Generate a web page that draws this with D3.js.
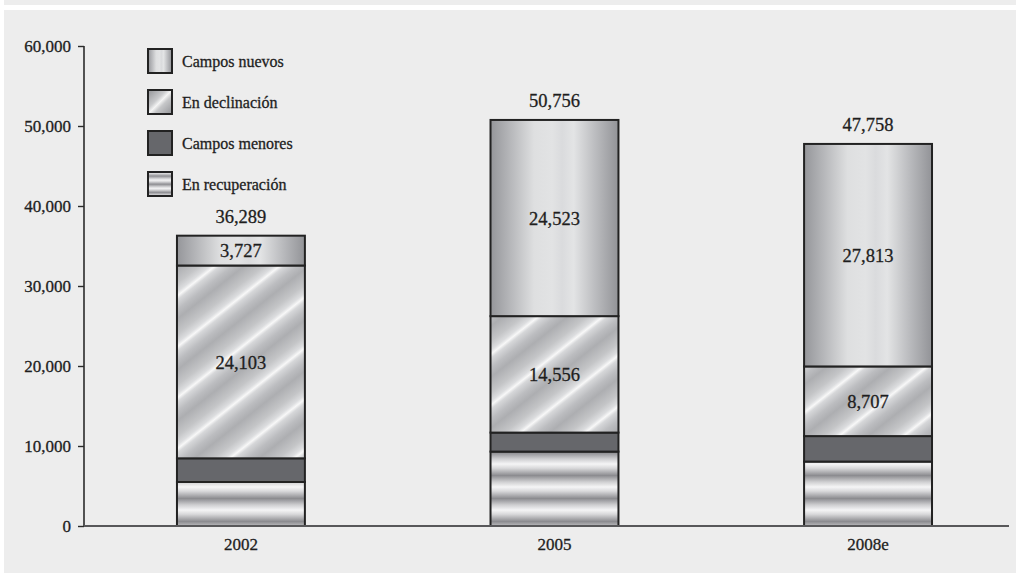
<!DOCTYPE html>
<html>
<head>
<meta charset="utf-8">
<script src="https://cdn.jsdelivr.net/npm/d3@7"></script>
<style>
  html, body { margin: 0; padding: 0; background: #ffffff; }
  svg { display: block; }
  text { font-family: "Liberation Serif", "Times New Roman", serif; fill: #1e1e1e; stroke: #1e1e1e; stroke-width: 0.3px; }
</style>
</head>
<body>
<svg id="chart" width="1016" height="573"></svg>
<script>
// Production by field type (stacked, bottom to top)
const years = ["2002", "2005", "2008e"];
const recuperacion = [5500, 9300, 8050];
const menores = [2959, 2377, 3188];
const declinacion = [24103, 14556, 8707];
const nuevos = [3727, 24523, 27813];
const totals = [36289, 50756, 47758];
const yTicks = [0, 10000, 20000, 30000, 40000, 50000, 60000];

const seriesKeys = ["recuperacion", "menores", "declinacion", "nuevos"];
const seriesNames = {
  nuevos: "Campos nuevos",
  declinacion: "En declinación",
  menores: "Campos menores",
  recuperacion: "En recuperación"
};
const legendOrder = ["nuevos", "declinacion", "menores", "recuperacion"];
const labelled = new Set(["declinacion", "nuevos"]);

const rows = years.map((y, i) => ({
  year: y,
  recuperacion: recuperacion[i],
  menores: menores[i],
  declinacion: declinacion[i],
  nuevos: nuevos[i],
  total: totals[i]
}));

const svg = d3.select("#chart");
const fmt = d3.format(",");

// panel background
svg.append("rect").attr("x", 4).attr("y", 0).attr("width", 1012).attr("height", 5).attr("fill", "#ededed");
svg.append("rect").attr("x", 4).attr("y", 10).attr("width", 1012).attr("height", 563).attr("fill", "#ededed");

// ---- fills ----
const defs = svg.append("defs");

function addGradient(id, attrs, stops) {
  const g = defs.append("linearGradient").attr("id", id);
  Object.entries(attrs).forEach(([k, v]) => g.attr(k, v));
  stops.forEach(([o, c]) => g.append("stop").attr("offset", o).attr("stop-color", c));
}

// cylinder-like shading across the bar
addGradient("g-nuevos", { x1: 0, y1: 0, x2: 1, y2: 0 }, [
  [0, "#95969a"], [0.14, "#b3b4b7"], [0.34, "#dedfe0"], [0.48, "#e2e3e4"],
  [0.56, "#dadbdd"], [0.65, "#e3e4e5"], [0.82, "#bbbcbf"], [1, "#929397"]
]);

// diagonal streaks
const P = 40, nx = 0.62, ny = 0.785;
addGradient("g-decl", {
  gradientUnits: "userSpaceOnUse", spreadMethod: "repeat",
  x1: 0, y1: 0, x2: nx * P, y2: ny * P
}, [
  [0, "#adaeb1"], [0.3, "#c4c5c7"], [0.47, "#dcdddf"], [0.55, "#f8f8f8"],
  [0.63, "#d6d7d9"], [0.82, "#bcbdc0"], [1, "#adaeb1"]
]);
addGradient("g-decl-legend", { x1: 0.1, y1: 0.1, x2: 0.9, y2: 0.9 }, [
  [0, "#a0a1a4"], [0.35, "#c9cacc"], [0.5, "#f4f4f4"], [0.65, "#c6c7c9"], [1, "#a0a1a4"]
]);

// horizontal ripples
addGradient("g-recup", {
  gradientUnits: "userSpaceOnUse", spreadMethod: "repeat",
  x1: 0, y1: 4, x2: 0, y2: 27
}, [
  [0, "#f5f5f6"], [0.18, "#d9d9db"], [0.5, "#8c8c90"], [0.78, "#cfcfd1"], [1, "#f5f5f6"]
]);
addGradient("g-recup-legend", {
  x1: 0, y1: 0, x2: 0, y2: 0.34, spreadMethod: "repeat"
}, [
  [0, "#f3f3f4"], [0.2, "#d5d5d7"], [0.5, "#8f8f93"], [0.8, "#d0d0d2"], [1, "#f3f3f4"]
]);

const barFill = {
  nuevos: "url(#g-nuevos)",
  declinacion: "url(#g-decl)",
  menores: "#66676b",
  recuperacion: "url(#g-recup)"
};
const legendFill = {
  nuevos: "url(#g-nuevos)",
  declinacion: "url(#g-decl-legend)",
  menores: "#66676b",
  recuperacion: "url(#g-recup-legend)"
};

// ---- scales ----
const y = d3.scaleLinear().domain([0, 60000]).range([526, 46]);
const x = d3.scaleBand()
  .domain(years)
  .range([84, 1009])
  .paddingInner(0.592)
  .paddingOuter(0.271)
  .align(0.547);

// ---- axes ----
const yAxis = svg.append("g")
  .attr("transform", "translate(84,0)")
  .call(d3.axisLeft(y).tickValues(yTicks).tickFormat(fmt).tickSize(6).tickPadding(7));
yAxis.select(".domain").attr("stroke", "#2b2b2b").attr("stroke-width", 1.6).attr("d", "M0,46V526");
yAxis.selectAll(".tick line").attr("stroke", "#2b2b2b").attr("stroke-width", 1.4);
yAxis.selectAll(".tick text")
  .style("font-family", "'Liberation Serif', serif")
  .style("font-size", "17px")
  .attr("fill", "#1e1e1e");

// ---- stacked bars ----
const stack = d3.stack().keys(seriesKeys)(rows);

const layers = svg.append("g").selectAll("g")
  .data(stack)
  .join("g")
  .attr("data-series", d => d.key);

layers.selectAll("rect")
  .data(d => d.map(v => ({ key: d.key, v })))
  .join("rect")
  .attr("x", d => x(d.v.data.year))
  .attr("width", x.bandwidth())
  .attr("y", d => y(d.v[1]))
  .attr("height", d => y(d.v[0]) - y(d.v[1]))
  .attr("fill", d => barFill[d.key])
  .attr("stroke", "#222")
  .attr("stroke-width", 2);

// segment values
svg.append("g").selectAll("text")
  .data(stack.filter(s => labelled.has(s.key)).flatMap(s => s.map(v => ({ key: s.key, v }))))
  .join("text")
  .attr("x", d => x(d.v.data.year) + x.bandwidth() / 2)
  .attr("y", d => (y(d.v[0]) + y(d.v[1])) / 2)
  .attr("dy", "0.36em")
  .attr("text-anchor", "middle")
  .style("font-size", "18.5px")
  .text(d => fmt(d.v.data[d.key]));

// totals above bars
svg.append("g").selectAll("text")
  .data(rows)
  .join("text")
  .attr("x", d => x(d.year) + x.bandwidth() / 2)
  .attr("y", d => y(d.total) - 13)
  .attr("text-anchor", "middle")
  .style("font-size", "18.5px")
  .text(d => fmt(d.total));

// x axis baseline and labels
const xAxis = svg.append("g")
  .attr("transform", "translate(0,526)")
  .call(d3.axisBottom(x).tickSize(0).tickPadding(12));
xAxis.select(".domain").attr("stroke", "#58585a").attr("stroke-width", 2.2).attr("d", "M84,0H1009");
xAxis.selectAll(".tick text")
  .style("font-family", "'Liberation Serif', serif")
  .style("font-size", "17px")
  .attr("fill", "#1e1e1e");

// ---- legend ----
const legend = svg.append("g").selectAll("g")
  .data(legendOrder)
  .join("g")
  .attr("transform", (d, i) => `translate(148,${49 + i * 41})`);
legend.append("rect")
  .attr("width", 24).attr("height", 24)
  .attr("fill", d => legendFill[d])
  .attr("stroke", "#222").attr("stroke-width", 2);
legend.append("text")
  .attr("x", 34).attr("y", 12).attr("dy", "0.36em")
  .style("font-size", "16px")
  .text(d => seriesNames[d]);
</script>
</body>
</html>
